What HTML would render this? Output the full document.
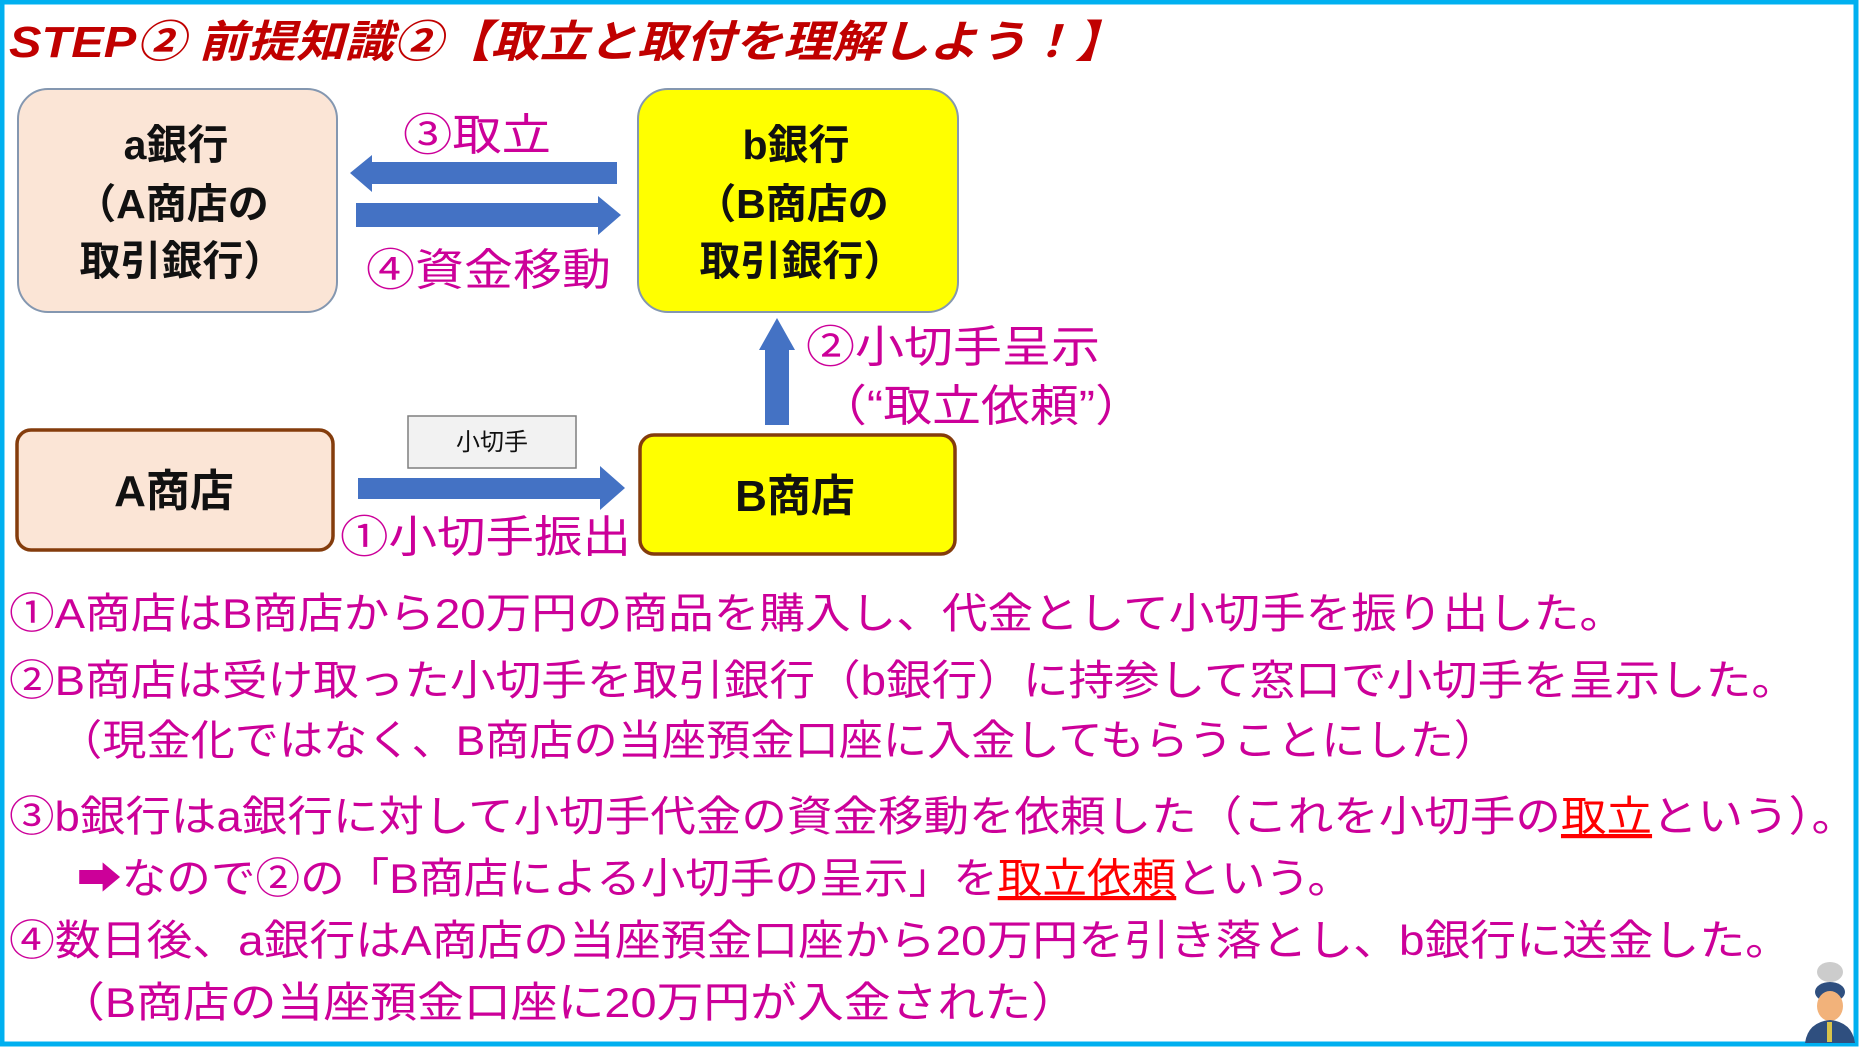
<!DOCTYPE html>
<html><head><meta charset="utf-8"><style>
html,body{margin:0;padding:0;background:#fff;}
svg{display:block;}
text{font-family:"Liberation Sans","Noto Sans CJK JP",sans-serif;}
</style></head><body>
<svg width="1860" height="1048" viewBox="0 0 1860 1048" xmlns="http://www.w3.org/2000/svg">
<rect x="0" y="0" width="1860" height="1048" fill="#fff"/>
<rect x="2" y="2" width="1854" height="1042" fill="none" stroke="#00B0F0" stroke-width="5"/>
<text x="9" y="57" font-size="44" font-weight="bold" font-style="italic" fill="#C00000" textLength="1115" lengthAdjust="spacingAndGlyphs">STEP② 前提知識②【取立と取付を理解しよう！】</text>

<rect x="18" y="89" width="319" height="223" rx="30" fill="#FBE5D6" stroke="#8497B0" stroke-width="2"/>
<text font-size="41" font-weight="bold" fill="#111" text-anchor="middle">
<tspan x="176" y="159">a銀行</tspan><tspan x="172" y="218">（A商店の</tspan><tspan x="182" y="275">取引銀行）</tspan></text>
<rect x="638" y="89" width="320" height="223" rx="30" fill="#FFFF00" stroke="#8497B0" stroke-width="2"/>
<text font-size="41" font-weight="bold" fill="#111" text-anchor="middle">
<tspan x="796" y="159">b銀行</tspan><tspan x="792" y="218">（B商店の</tspan><tspan x="802" y="275">取引銀行）</tspan></text>

<text x="403" y="150" font-size="44" fill="#CC0099" textLength="148" lengthAdjust="spacingAndGlyphs">③取立</text>
<polygon points="617,162 372,162 372,155 350,173 372,192 372,184 617,184" fill="#4472C4"/>
<polygon points="356,203 598,203 598,196 621,215 598,235 598,227 356,227" fill="#4472C4"/>
<text x="366" y="285" font-size="44" fill="#CC0099" textLength="245" lengthAdjust="spacingAndGlyphs">④資金移動</text>

<polygon points="765,425 765,350 759,350 777,318 795,350 789,350 789,425" fill="#4472C4"/>
<text x="806" y="362" font-size="44" fill="#CC0099" textLength="294" lengthAdjust="spacingAndGlyphs">②小切手呈示</text>
<text x="818" y="421" font-size="44" fill="#CC0099" textLength="326" lengthAdjust="spacingAndGlyphs">（“取立依頼”）</text>

<rect x="408" y="416" width="168" height="52" fill="#F2F2F2" stroke="#7F7F7F" stroke-width="1.5"/>
<text x="492" y="450" font-size="24" fill="#111" text-anchor="middle">小切手</text>

<rect x="17" y="430" width="316" height="120" rx="14" fill="#FBE5D6" stroke="#843C0C" stroke-width="3.5"/>
<text x="174" y="506" font-size="44" font-weight="bold" fill="#111" text-anchor="middle">A商店</text>
<rect x="640" y="435" width="315" height="119" rx="14" fill="#FFFF00" stroke="#843C0C" stroke-width="3.5"/>
<text x="795" y="511" font-size="44" font-weight="bold" fill="#111" text-anchor="middle">B商店</text>

<polygon points="358,478 600,478 600,466 625,488 600,510 600,499 358,499" fill="#4472C4"/>
<text x="340" y="552" font-size="44" fill="#CC0099" textLength="291" lengthAdjust="spacingAndGlyphs">①小切手振出</text>

<g font-size="42" fill="#CC0099">
<text x="9" y="628" textLength="1616" lengthAdjust="spacingAndGlyphs">①A商店はB商店から20万円の商品を購入し、代金として小切手を振り出した。</text>
<text x="9" y="695" textLength="1788" lengthAdjust="spacingAndGlyphs">②B商店は受け取った小切手を取引銀行（b銀行）に持参して窓口で小切手を呈示した。</text>
<text x="58" y="755" textLength="1440" lengthAdjust="spacingAndGlyphs">（現金化ではなく、B商店の当座預金口座に入金してもらうことにした）</text>
<text x="9" y="831" textLength="1848" lengthAdjust="spacingAndGlyphs">③b銀行はa銀行に対して小切手代金の資金移動を依頼した（これを小切手の<tspan fill="#FF0000" text-decoration="underline">取立</tspan>という）。</text>
<text x="77" y="893" textLength="1275" lengthAdjust="spacingAndGlyphs">➡なので②の「B商店による小切手の呈示」を<tspan fill="#FF0000" text-decoration="underline">取立依頼</tspan>という。</text>
<text x="9" y="955" textLength="1782" lengthAdjust="spacingAndGlyphs">④数日後、a銀行はA商店の当座預金口座から20万円を引き落とし、b銀行に送金した。</text>
<text x="58" y="1017" textLength="1020" lengthAdjust="spacingAndGlyphs">（B商店の当座預金口座に20万円が入金された）</text>
</g>

<g>
<ellipse cx="1830" cy="972" rx="13" ry="10" fill="#ccc"/>
<ellipse cx="1830" cy="992" rx="15" ry="10" fill="#2F4F7F"/>
<ellipse cx="1830" cy="1006" rx="13" ry="15" fill="#F2B27A"/>
<path d="M1805 1043 Q1808 1022 1830 1020 Q1852 1022 1855 1043 Z" fill="#2F4F7F"/>
<rect x="1827" y="1022" width="5" height="20" fill="#D9C34A"/>
</g>
</svg>
</body></html>
